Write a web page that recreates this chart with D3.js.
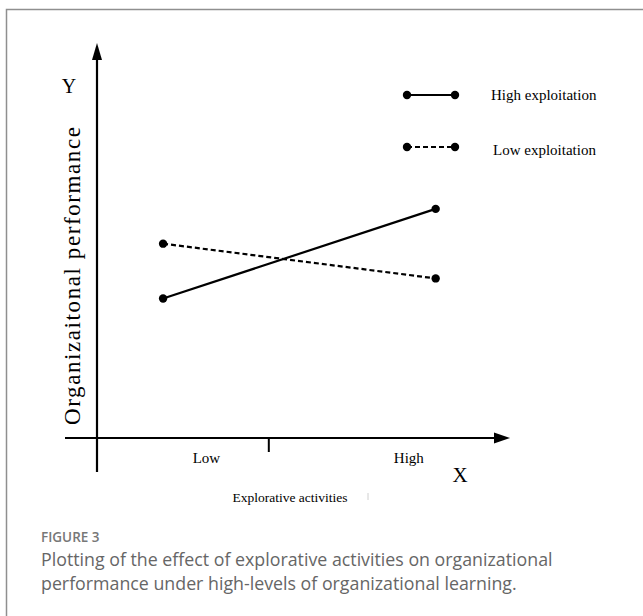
<!DOCTYPE html>
<html>
<head>
<meta charset="utf-8">
<script src="https://cdn.jsdelivr.net/npm/d3@7"></script>
<style>
  body { margin: 0; background: #fff; }
</style>
</head>
<body>
<div id="chart"></div>
<script>
// data (abstract interaction plot)
const levels = ['Low', 'High']
const levelPos = [16.0, 82.0]        // x position of each level on the 0-100 axis
const levelLabelPos = [26.5, 75.5]
const midTick = 41.6
const seriesNames = ['High exploitation', 'Low exploitation']
const highExploitation = [35.3, 58.0]
const lowExploitation = [49.2, 40.4]
const dashes = [null, '5,3']

const width = 643, height = 616

const svg = d3.select('#chart').append('svg')
  .attr('width', width)
  .attr('height', height)

// outer frame
svg.append('path')
  .attr('d', `M6.5,${height} V9.5 H${width}`)
  .attr('fill', 'none')
  .attr('stroke', '#8f8f8f')
  .attr('stroke-width', 1.5)

const x = d3.scaleLinear().domain([0, 100]).range([97, 510])
const y = d3.scaleLinear().domain([0, 100]).range([438, 43])

// axes with arrow heads
svg.append('line')
  .attr('x1', x(0)).attr('x2', x(0))
  .attr('y1', 472).attr('y2', y(100) + 10)
  .attr('stroke', '#000').attr('stroke-width', 2.2)
svg.append('path')
  .attr('d', `M${x(0)},${y(100)} L${x(0) + 5},${y(100) + 17} L${x(0) - 5},${y(100) + 17} Z`)
  .attr('fill', '#000')

svg.append('line')
  .attr('x1', 65).attr('x2', x(100) - 10)
  .attr('y1', y(0)).attr('y2', y(0))
  .attr('stroke', '#000').attr('stroke-width', 2.2)
svg.append('path')
  .attr('d', `M${x(100)},${y(0)} L${x(100) - 16},${y(0) - 5.5} L${x(100) - 16},${y(0) + 5.5} Z`)
  .attr('fill', '#000')

svg.append('line')
  .attr('x1', x(midTick)).attr('x2', x(midTick))
  .attr('y1', y(0)).attr('y2', y(0) + 14)
  .attr('stroke', '#000').attr('stroke-width', 2)

const serif = 'Liberation Serif, Times New Roman, serif'

svg.selectAll('.lvl')
  .data(levels)
  .enter().append('text')
  .attr('class', 'lvl')
  .attr('x', (d, i) => x(levelLabelPos[i]))
  .attr('y', y(0) + 25)
  .attr('text-anchor', 'middle')
  .attr('font-family', serif)
  .attr('font-size', '15px')
  .text(d => d)

svg.append('text')
  .attr('x', 460).attr('y', 482)
  .attr('text-anchor', 'middle')
  .attr('font-family', serif).attr('font-size', '21px')
  .text('X')

svg.append('text')
  .attr('x', 69).attr('y', 93)
  .attr('text-anchor', 'middle')
  .attr('font-family', serif).attr('font-size', '20px')
  .text('Y')

svg.append('text')
  .attr('x', 290).attr('y', 502)
  .attr('text-anchor', 'middle')
  .attr('font-family', serif).attr('font-size', '13.5px')
  .text('Explorative activities')

// small stray mark next to the x title in the source image
svg.append('line')
  .attr('x1', 368).attr('x2', 368)
  .attr('y1', 493).attr('y2', 500)
  .attr('stroke', '#d0d0d0').attr('stroke-width', 1)

svg.append('text')
  .attr('transform', 'translate(80,276) rotate(-90)')
  .attr('text-anchor', 'middle')
  .attr('font-family', serif).attr('font-size', '23px')
  .attr('textLength', 298)
  .text('Organizaitonal performance')

// series lines
const series = [highExploitation, lowExploitation]
const line = d3.line().x((d, i) => x(levelPos[i])).y(d => y(d))

series.forEach((vals, s) => {
  svg.append('path')
    .attr('d', line(vals))
    .attr('fill', 'none')
    .attr('stroke', '#000')
    .attr('stroke-width', 2.2)
    .attr('stroke-dasharray', dashes[s])
  svg.selectAll('.dot' + s)
    .data(vals)
    .enter().append('circle')
    .attr('cx', (d, i) => x(levelPos[i]))
    .attr('cy', d => y(d))
    .attr('r', 4.2)
    .attr('fill', '#000')
})

// legend
const legendY = [95, 147]
const legend = svg.selectAll('.legend')
  .data(seriesNames)
  .enter().append('g')
  .attr('class', 'legend')
  .attr('transform', (d, i) => `translate(0,${legendY[i]})`)

legend.append('line')
  .attr('x1', 407).attr('x2', 455)
  .attr('stroke', '#000').attr('stroke-width', 2.2)
  .attr('stroke-dasharray', (d, i) => dashes[i])
legend.append('circle').attr('cx', 407).attr('r', 4.2)
legend.append('circle').attr('cx', 455).attr('r', 4.2)
legend.append('text')
  .attr('x', (d, i) => i === 0 ? 491 : 493)
  .attr('y', (d, i) => i === 0 ? 5 : 8)
  .attr('font-family', serif).attr('font-size', '15px')
  .text(d => d)

// caption
const sans = 'Open Sans, Lato, sans-serif'
svg.append('text')
  .attr('x', 41).attr('y', 542)
  .attr('font-family', sans).attr('font-size', '13.5px')
  .attr('font-weight', 600)
  .attr('fill', '#777')
  .text('FIGURE 3')

const captionLines = [
  'Plotting of the effect of explorative activities on organizational',
  'performance under high-levels of organizational learning.'
]
svg.selectAll('.cap')
  .data(captionLines)
  .enter().append('text')
  .attr('x', 41)
  .attr('y', (d, i) => 566 + i * 24)
  .attr('font-family', sans).attr('font-size', '17.8px')
  .attr('fill', '#666')
  .text(d => d)
</script>
</body>
</html>
